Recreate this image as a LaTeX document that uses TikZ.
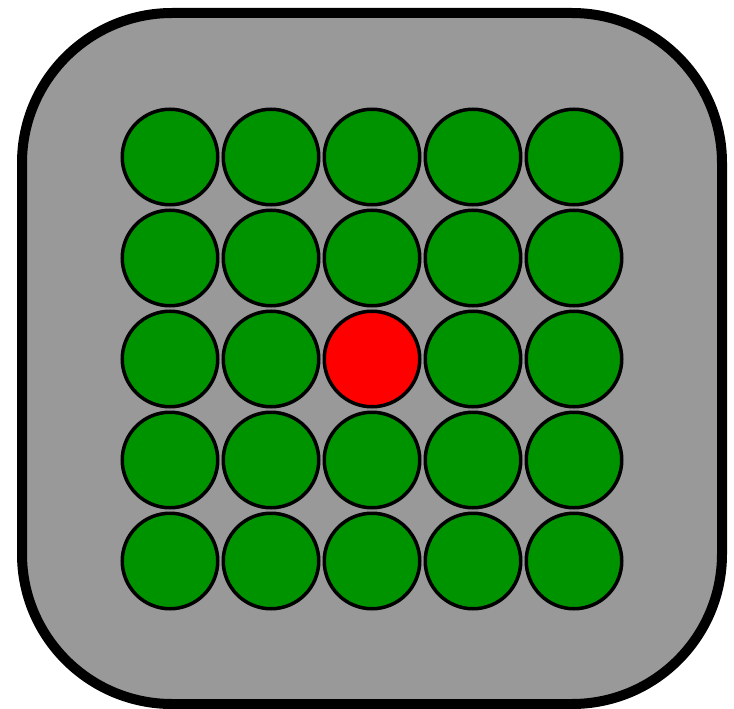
\documentclass[tikz,border=0pt]{standalone}
\begin{document}
\begin{tikzpicture}[x=1pt,y=-1pt,
  box/.style={draw=black,line width=10pt,fill=panelgray,rounded corners=150pt},
  disc/.style={circle,draw=black,line width=3.5pt,fill=discgreen,minimum size=95.5pt,inner sep=0pt},
  hot/.style={disc,fill=red}]
\definecolor{panelgray}{RGB}{153,153,153}
\definecolor{discgreen}{RGB}{0,147,0}
\useasboundingbox (0,0) rectangle (734,709);
\draw[box] (22,13) rectangle (722,704);
\foreach \i in {0,...,4}{
  \foreach \j in {0,...,4}{
    \pgfmathsetmacro{\cx}{170+101*\i}
    \pgfmathsetmacro{\cy}{157+101*\j}
    \ifnum\i=2 \ifnum\j=2
      \node[hot] (c\i\j) at (\cx,\cy) {};
    \else
      \node[disc] (c\i\j) at (\cx,\cy) {};
    \fi\else
      \node[disc] (c\i\j) at (\cx,\cy) {};
    \fi
  }
}
\end{tikzpicture}
\end{document}
